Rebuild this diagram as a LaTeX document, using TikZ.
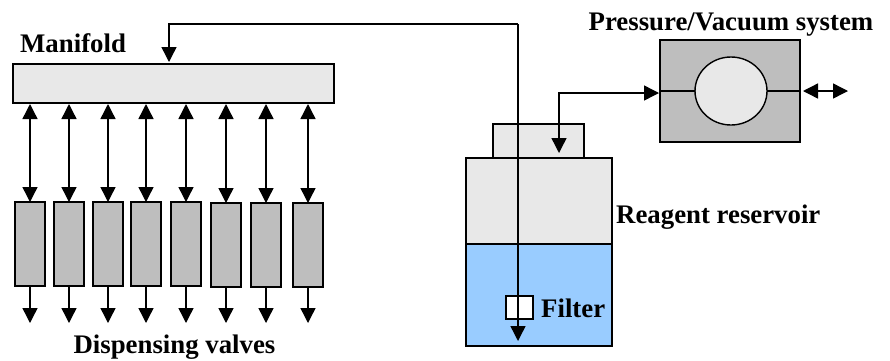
\documentclass[tikz,border=0pt]{standalone}
\usepackage{fontspec}
\setmainfont{Liberation Serif}
\usetikzlibrary{arrows.meta, positioning, shapes.geometric}

\definecolor{lightgrey}{HTML}{E8E8E8}
\definecolor{midgrey}{HTML}{BEBEBE}
\definecolor{reagent}{HTML}{99CCFF}

\tikzset{
    part/.style={rectangle, draw, line width=1.4pt, inner sep=0pt, outer sep=0pt},
    valve/.style={part, fill=midgrey, minimum width=30pt, minimum height=84pt},
    caption/.style={font=\fontsize{26.8}{27}\selectfont\bfseries, inner sep=0pt},
    flow/.style={line width=1.4pt, -{Triangle[width=15pt,length=15pt]}},
    bothflow/.style={line width=1.4pt, {Triangle[width=15pt,length=15pt]}-{Triangle[width=15pt,length=15pt]}}
}

\begin{document}
\begin{tikzpicture}[x=1pt, y=-1pt]
    \useasboundingbox (0,0) rectangle (890,360);

    \node (manifold) [part, fill=lightgrey, minimum width=321pt, minimum height=39pt] at (173.5,83.5) {};
    \node (mlabel) [caption, anchor=west] at (20,43) {Manifold};

    \foreach \i/\x/\y in {1/30/244, 2/69/244, 3/108/244, 4/146/244, 5/186/244, 6/226/245, 7/266/245, 8/308/245} {
        \node (v\i) [valve] at (\x,\y) {};
        \coordinate (vtop\i) at (\x,104);
        \coordinate (vout\i) at (\x,323);
        \draw [bothflow] (vtop\i) -- (v\i);
        \draw [flow] (v\i) -- (vout\i);
    }
    \node (vlabel) [caption] at (174.5,347) {Dispensing valves};

    % reservoir
    \node (neck) [part, fill=lightgrey, minimum width=91pt, minimum height=34pt] at (538.5,141) {};
    \node (gas) [part, fill=lightgrey, minimum width=146pt, minimum height=86pt] at (539,201) {};
    \node (liquid) [part, fill=reagent, minimum width=146pt, minimum height=102pt] at (539,295) {};
    \node (rlabel) [caption, anchor=west] at (616,217) {Reagent reservoir};

    \node (filter) [part, fill=white, minimum width=27pt, minimum height=23pt] at (519.5,307.5) {};
    \node (flabel) [caption, anchor=west] at (541,308) {Filter};

    % pressure system
    \node (pressure) [part, fill=midgrey, minimum width=140pt, minimum height=102pt] at (730,91) {};
    \node (pump) [ellipse, draw, line width=1.4pt, fill=lightgrey, minimum width=72pt, minimum height=68pt, inner sep=0pt, outer sep=0pt] at (731,91) {};
    \node (plabel) [caption] at (731,25) {Pressure/Vacuum system};
    \draw [line width=1.4pt] (pressure.west) -- (pump);
    \draw [line width=1.4pt] (pump) -- (pressure.east);

    \coordinate (ventl) at (803,91);
    \coordinate (ventr) at (848,91);
    \draw [bothflow] (ventl) -- (ventr);

    \coordinate (pin) at (659,93);
    \coordinate (nin) at (559,153);
    \draw [bothflow] (nin) |- (pin);

    \coordinate (dip) at (518,341);
    \coordinate (mtop) at (169,62);
    \coordinate (turn) at (518,24);
    \draw [flow] (turn) -| (mtop);
    \draw [flow] (turn) -- (dip);
\end{tikzpicture}
\end{document}
